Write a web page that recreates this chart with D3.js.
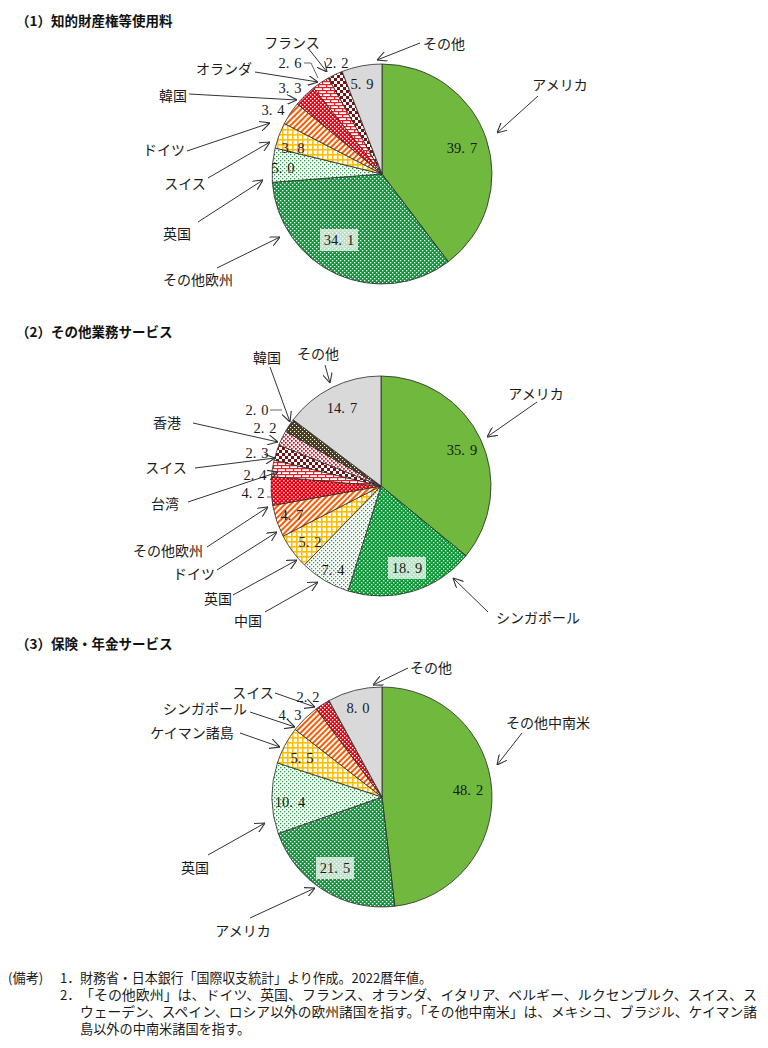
<!DOCTYPE html>
<html><head><meta charset="utf-8">
<script src="https://cdn.jsdelivr.net/npm/d3@7"></script>
<style>
html,body{margin:0;padding:0;background:#fff;}
svg{display:block;}
</style></head>
<body>
<svg id="chart" width="768" height="1048"></svg>
<script>
// ---------------- DATA ----------------
const titles = ["（1）知的財産権等使用料", "（2）その他業務サービス", "（3）保険・年金サービス"];

const p1Names  = ["アメリカ","その他欧州","英国","スイス","ドイツ","韓国","オランダ","フランス","その他"];
const p1Values = [39.7, 34.1, 5.0, 3.8, 3.4, 3.3, 2.6, 2.2, 5.9];

const p2Names  = ["アメリカ","シンガポール","中国","英国","ドイツ","その他欧州","台湾","スイス","香港","韓国","その他"];
const p2Values = [35.9, 18.9, 7.4, 5.2, 4.7, 4.2, 2.4, 2.3, 2.2, 2.0, 14.7];

const p3Names  = ["その他中南米","アメリカ","英国","ケイマン諸島","シンガポール","スイス","その他"];
const p3Values = [48.2, 21.5, 10.4, 5.5, 4.3, 2.2, 8.0];

const notes = [
  "財務省・日本銀行「国際収支統計」より作成。2022暦年値。",
  "「その他欧州」は、ドイツ、英国、フランス、オランダ、イタリア、ベルギー、ルクセンブルク、スイス、ス",
  "ウェーデン、スペイン、ロシア以外の欧州諸国を指す。「その他中南米」は、メキシコ、ブラジル、ケイマン諸",
  "島以外の中南米諸国を指す。"
];

// ---------------- STYLES (fill per slice) ----------------
const p1Fills = ["solidGreen","greenCheck","greenDots","yellowGrid","orangeStripe","redDots","brick","darkCheck","grey"];
const p2Fills = ["solidGreen","greenCheck","greenDots","yellowGrid","orangeStripe","redDots","brick","darkCheck","redOnWhite","oliveDots","grey"];
const p3Fills = ["solidGreen","greenCheck","greenDots","yellowGrid","orangeStripe","redDots","grey"];

// ---------------- LAYOUT ----------------
const R = 110;
const pieCenters = [[382,174],[381,486],[382,797]];
const titlePos = [[16,22],[16,333],[16,645]];

// value label positions [x,y,boxed]
const p1ValPos = [[462,148,0],[339,240,1],[283,168,0],[293,148,0],[273,110,0],[290,88,0],[290,63,0],[337,63,0],[362,84,0]];
const p2ValPos = [[462,450,0],[407,568,1],[333,570,0],[310,542,0],[292,515,0],[253,493,0],[255,475,0],[257,453,0],[265,428,0],[257,410,0],[342,408,0]];
const p3ValPos = [[468,790,0],[335,868,1],[290,802,0],[302,758,0],[290,715,0],[308,697,0],[358,708,0]];

// name labels: [x, y, line points, arrow]
const p1Labels = [
  [560,84,[[538,96],[497,133]],1],
  [198,279,[[217,268],[280,237]],1],
  [177,233,[[198,222],[263,180]],1],
  [185,183,[[208,178],[270,142]],1],
  [164,149,[[187,151],[270,123]],1],
  [173,95,[[189,94],[297,100]],1],
  [224,68,[[255,72],[318,82]],1],
  [292,42,[[308,48],[327,72]],1],
  [444,43,[[420,43],[377,60]],1]
];
const p1Extra = [[[304,63],[311,63],[318,78]]];

const p2Labels = [
  [536,393,[[537,402],[487,437]],1],
  [538,617,[[488,612],[453,578]],1],
  [248,620,[[265,612],[318,582]],1],
  [218,598,[[233,595],[297,560]],1],
  [194,573,[[217,570],[277,532]],1],
  [168,550,[[207,547],[268,507]],1],
  [165,503,[[188,502],[278,472]],1],
  [166,467,[[195,468],[275,458]],1],
  [167,422,[[193,423],[278,442]],1],
  [267,357,[[270,367],[290,422]],1],
  [318,353,[[325,365],[330,383]],1]
];
const p2Extra = [[[270,410],[282,410]],[[267,497],[274,497]]];

const p3Labels = [
  [548,722,[[522,733],[497,765]],1],
  [243,930,[[250,918],[315,888]],1],
  [195,867,[[208,855],[265,823]],1],
  [192,732,[[240,733],[280,747]],1],
  [205,708,[[250,712],[295,727]],1],
  [253,692,[[275,693],[315,707]],1],
  [431,667,[[408,668],[373,685]],1]
];
const p3Extra = [];

// ---------------- DRAW ----------------
const svg = d3.select("#chart");
const defs = svg.append("defs");
const JP = "'Noto Sans CJK JP','Noto Sans',sans-serif";
const NUM = "'Liberation Serif','DejaVu Serif',serif";

function pat(id, w, h, bg, shapes, transform){
  const p = defs.append("pattern").attr("id", id).attr("patternUnits","userSpaceOnUse")
    .attr("width", w).attr("height", h);
  if (transform) p.attr("patternTransform", transform);
  p.append("rect").attr("width", w).attr("height", h).attr("fill", bg);
  shapes.forEach(s => p.append("rect").attr("x", s[0]).attr("y", s[1]).attr("width", s[2]).attr("height", s[3]).attr("fill", s[4]));
}
pat("greenCheck", 4, 4, "#0e9638", [[0,0,1.3,1.3,"#fff"],[2,2,1.3,1.3,"#fff"]]);
pat("greenDots", 4, 4, "#fff", [[0,0,1.3,1.3,"#1f9c40"],[2,2,1.3,1.3,"#1f9c40"]]);
pat("yellowGrid", 5, 5, "#fff", [[0,0,5,1.6,"#ffbe00"],[0,0,1.6,5,"#ffbe00"]]);
pat("orangeStripe", 4, 4, "#fff", [[0,0,2,4,"#ff5a00"]], "rotate(45)");
pat("redDots", 4, 4, "#e60012", [[0,0,1.4,1.4,"#fff"],[2,2,1.4,1.4,"#fff"]]);
pat("brick", 8, 6, "#fff", [[0,0,8,1.2,"#ec1c24"],[0,3,8,1.2,"#ec1c24"],[0,0,1.2,3,"#ec1c24"],[4,3,1.2,3,"#ec1c24"]]);
pat("darkCheck", 6, 6, "#fff", [[0,0,3,3,"#731414"],[3,3,3,3,"#731414"]]);
pat("redOnWhite", 4, 4, "#fff", [[0,0,1.7,1.7,"#e60012"],[2,2,1.7,1.7,"#e60012"]]);
pat("oliveDots", 4, 4, "#4a3d1e", [[1,1,1.1,1.1,"#fff"],[3,3,1.1,1.1,"#fff"]]);

const fillMap = k => k === "solidGreen" ? "#70b83e" : k === "grey" ? "#d9d9d9" : `url(#${k})`;

// arrow marker
defs.append("marker").attr("id","arr").attr("viewBox","0 0 10 10")
  .attr("refX",10).attr("refY",5).attr("markerWidth",10).attr("markerHeight",10)
  .attr("markerUnits","userSpaceOnUse").attr("orient","auto")
  .append("path").attr("d","M0,0 L10,5 L0,10").attr("fill","none")
  .attr("stroke","#333").attr("stroke-width",1.1);

const pieGen = d3.pie().sort(null).value(d => d).startAngle(0).endAngle(2*Math.PI);
const arcGen = d3.arc().innerRadius(0).outerRadius(R);

const charts = [
  [p1Names,p1Values,p1Fills,p1ValPos,p1Labels,p1Extra],
  [p2Names,p2Values,p2Fills,p2ValPos,p2Labels,p2Extra],
  [p3Names,p3Values,p3Fills,p3ValPos,p3Labels,p3Extra]
];

const line = d3.line();

charts.forEach((c, i) => {
  const [names, values, fills, valPos, labels, extra] = c;
  // title
  svg.append("text").attr("x", titlePos[i][0]).attr("y", titlePos[i][1])
    .attr("font-family", JP).attr("font-weight", 700).attr("font-size", 13.5)
    .attr("fill", "#111").attr("dominant-baseline","middle").text(titles[i]);

  const g = svg.append("g").attr("transform", `translate(${pieCenters[i][0]},${pieCenters[i][1]})`);
  const arcs = pieGen(values);
  g.selectAll("path.slice").data(arcs).join("path").attr("class","slice")
    .attr("d", arcGen).attr("fill", (d, j) => fillMap(fills[j]))
    .attr("stroke", "#2a2a2a").attr("stroke-width", 0.8).attr("stroke-linejoin","round");

  // leader lines
  labels.forEach(l => {
    svg.append("path").attr("d", line(l[2])).attr("fill","none")
      .attr("stroke","#333").attr("stroke-width",1)
      .attr("marker-end", l[3] ? "url(#arr)" : null);
  });
  extra.forEach(pts => {
    svg.append("path").attr("d", line(pts)).attr("fill","none").attr("stroke","#555").attr("stroke-width",0.9);
  });

  // value labels
  values.forEach((v, j) => {
    const p = valPos[j];
    if (p[2]) {
      svg.append("rect").attr("x", p[0]-19).attr("y", p[1]-11).attr("width", 38).attr("height", 22)
        .attr("fill", "#fff").attr("fill-opacity", 0.72);
    }
    const s = v.toFixed(1).split(".");
    const t = svg.append("text").attr("x", p[0]).attr("y", p[1]).attr("text-anchor","middle")
      .attr("dominant-baseline","central").attr("font-family", NUM).attr("font-size", 14.5)
      .attr("fill","#1a1a1a");
    t.append("tspan").text(s[0] + ".");
    t.append("tspan").attr("dx", 5).text(s[1]);
  });

  // name labels
  names.forEach((n, j) => {
    const l = labels[j];
    svg.append("text").attr("x", l[0]).attr("y", l[1]).attr("text-anchor","middle")
      .attr("dominant-baseline","central").attr("font-family", JP).attr("font-size", 14)
      .attr("fill","#1a1a1a").text(n);
  });
});

// footnotes
const noteY = [977, 994, 1011, 1028];
const fn = svg.append("g").attr("font-family", JP).attr("font-size", 13.2).attr("fill", "#1a1a1a");
fn.append("text").attr("x", 8).attr("y", noteY[0]).attr("dominant-baseline","central").text("(備考)");
fn.append("text").attr("x", 60).attr("y", noteY[0]).attr("dominant-baseline","central").text("1．");
fn.append("text").attr("x", 60).attr("y", noteY[1]).attr("dominant-baseline","central").text("2．");
const noteLens = [352, 677, 677, 0];
notes.forEach((t, k) => {
  const tx = fn.append("text").attr("x", 80).attr("y", noteY[k]).attr("dominant-baseline","central").text(t);
  if (noteLens[k]) tx.attr("textLength", noteLens[k]).attr("lengthAdjust","spacingAndGlyphs");
});
</script>
</body></html>
